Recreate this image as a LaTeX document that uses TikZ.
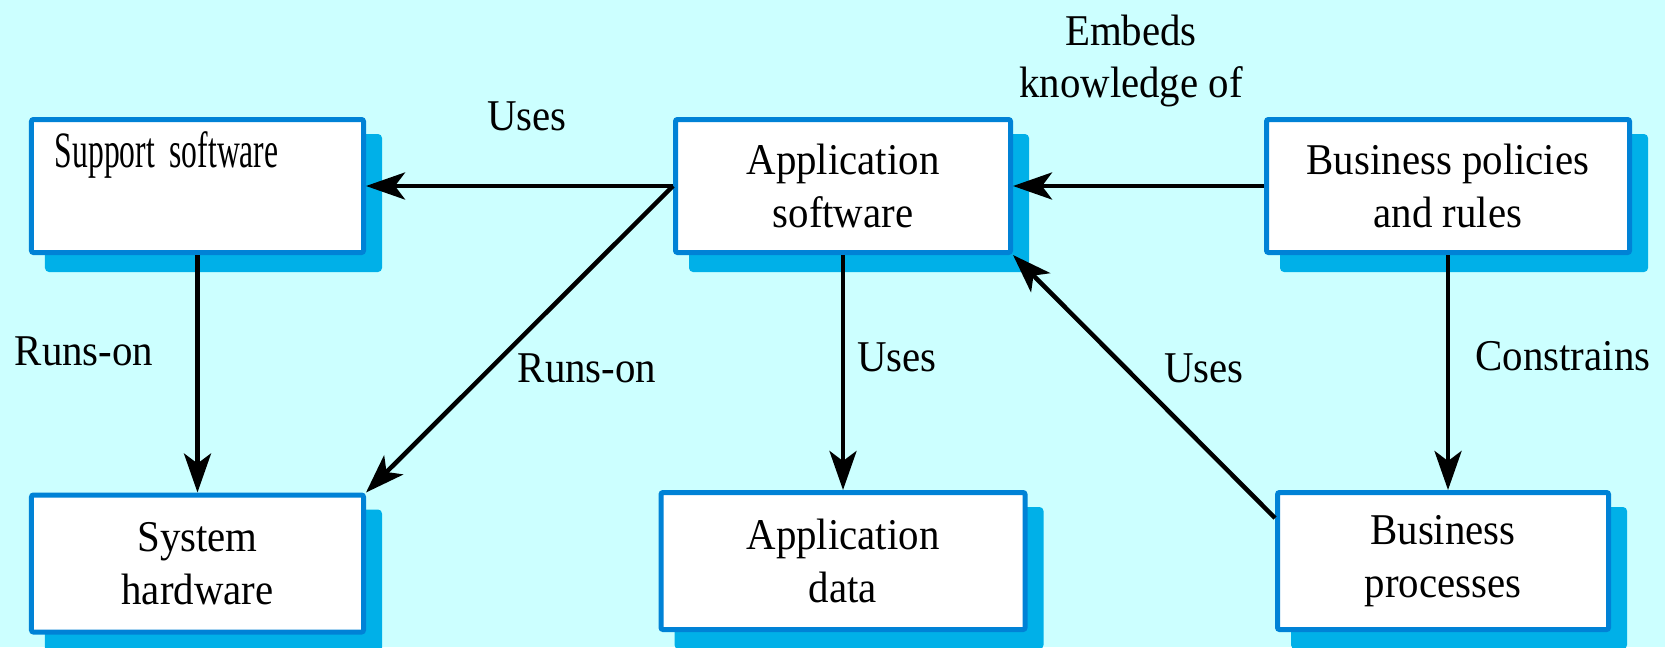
\documentclass[tikz,border=0pt]{standalone}
\usepackage{fontspec}
\setmainfont{Liberation Serif}[FakeStretch=0.93]
\newfontfamily\squeezed{Liberation Serif}[FakeStretch=0.62]
\usetikzlibrary{arrows.meta,shapes,shadows,positioning}
\definecolor{bgcyan}{RGB}{204,255,255}
\definecolor{edgeblue}{RGB}{0,130,214}
\definecolor{shadeblue}{RGB}{0,176,232}
\tikzstyle{arrow}=[draw,-{Stealth[length=7.8mm,width=5.4mm,inset=2mm]},line width=0.9mm]
\tikzstyle{block} =
  [rectangle, draw=edgeblue, fill=white, line width=1mm, rounded corners=0.4mm,
   align=center, inner sep=1mm, minimum width=67mm, minimum height=26.6mm,
   general shadow={fill=shadeblue, draw=shadeblue, line width=1mm,
                   shadow xshift=3.2mm, shadow yshift=-3.4mm}]
\tikzstyle{lbl}=[inner sep=0pt, align=center]

\begin{document}
\begin{tikzpicture}[x=0.2mm, y=-0.2mm, font=\fontsize{25}{30}\selectfont]
  \path [use as bounding box, fill=bgcyan] (0,0) rectangle (1665,647);

  \node [block, align=left, text width=57mm, inner xsep=4.7mm,
         minimum width=66.4mm] (sup) at (197.5,186)
        {{\squeezed\fontsize{29}{30}\selectfont Support software}\\[11pt]\mbox{}};
  \node [block, right of=sup, node distance=129.1mm] (appsw) {Application\\software};
  \node [block, right of=appsw, node distance=121mm, minimum width=72.6mm] (pol)
        {Business policies\\and rules};
  \node [block, below of=sup, node distance=75.5mm, minimum width=66.4mm,
         minimum height=27.4mm] (hw) {System\\hardware};
  \node [block, below of=appsw, node distance=75mm, minimum width=72.8mm,
         minimum height=27.4mm] (data) {Application\\data};
  \node [block, below of=pol, node distance=75mm, xshift=-1mm, minimum width=66.2mm,
         minimum height=27.4mm] (proc) {Business\\processes};

  \node [lbl] (uses1) at (527,116) {Uses};
  \node [lbl] (embeds) at (1131,61) {Embeds\\knowledge of};
  \node [lbl] (runs1) at (84,351) {Runs-on};
  \node [lbl] (runs2) at (587,368) {Runs-on};
  \node [lbl] (uses2) at (897,357) {Uses};
  \node [lbl] (uses3) at (1204,368) {Uses};
  \node [lbl] (constr) at (1563,356) {Constrains};

  \draw [arrow] (appsw.west) -- (sup.east);
  \draw [arrow] (appsw.west) -- (hw.north east);
  \draw [arrow] (sup) -- (hw);
  \draw [arrow] (appsw.south) -- (appsw.south |- data.north);
  \draw [arrow] (pol) -- (appsw);
  \draw [arrow] ([yshift=-5.6mm]proc.north west) -- (appsw.south east);
  \draw [arrow] (pol.south) -- (pol.south |- proc.north);
\end{tikzpicture}
\end{document}
